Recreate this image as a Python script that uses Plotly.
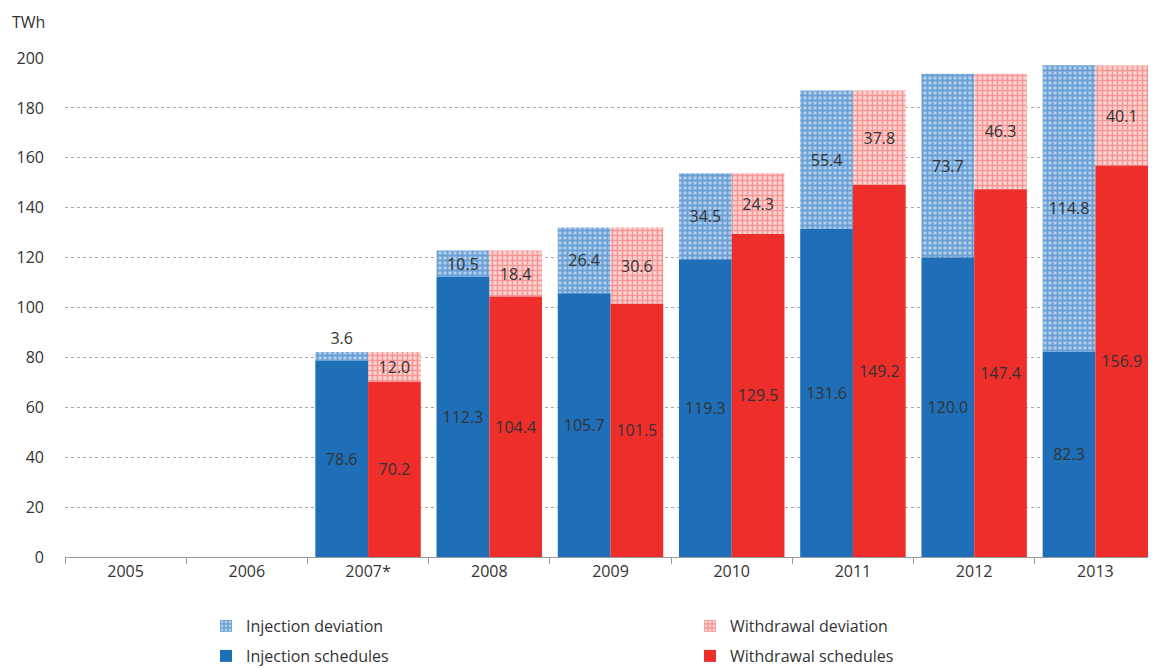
import plotly.graph_objects as go

years = ["2005", "2006", "2007*", "2008", "2009", "2010", "2011", "2012", "2013"]
inj_sched = [None, None, 78.6, 112.3, 105.7, 119.3, 131.6, 120.0, 82.3]
inj_dev = [None, None, 3.6, 10.5, 26.4, 34.5, 55.4, 73.7, 114.8]
wd_sched = [None, None, 70.2, 104.4, 101.5, 129.5, 149.2, 147.4, 156.9]
wd_dev = [None, None, 12.0, 18.4, 30.6, 24.3, 37.8, 46.3, 40.1]

BLUE = "#1E6EB8"
RED = "#EE2E2B"
TXT = "#333333"
FONT = "Open Sans"
# page body has an 8px margin, so the figure is drawn slightly smaller
W, H = 1148, 660
ML, MR, MT, MB = 57, 0, 50, 111
PW, PH = W - ML - MR, H - MT - MB

def fmt(vals):
    return ["" if v is None else f"{v:.1f}" for v in vals]

def pos(vals):
    return ["outside" if (v is not None and v < 5) else "inside" for v in vals]

fig = go.Figure()

fig.add_trace(go.Bar(
    x=years, y=inj_dev, base=inj_sched, name="Injection deviation",
    offsetgroup="inj", legend="legend",
    marker=dict(line=dict(width=0),
                pattern=dict(shape="+", fgcolor=BLUE, bgcolor="#b3cfee", size=5, solidity=0.6)),
    text=fmt(inj_dev), textposition=pos(inj_dev), insidetextanchor="middle",
    textfont=dict(color=TXT, size=16, family=FONT),
    cliponaxis=False,
))
fig.add_trace(go.Bar(
    x=years, y=wd_dev, base=wd_sched, name="Withdrawal deviation",
    offsetgroup="wd", legend="legend2",
    marker=dict(line=dict(width=0),
                pattern=dict(shape="+", fgcolor="#ef5552", bgcolor="#fcd6d5", size=5, solidity=0.55)),
    text=fmt(wd_dev), textposition=pos(wd_dev), insidetextanchor="middle",
    textfont=dict(color=TXT, size=16, family=FONT),
    cliponaxis=False,
))
fig.add_trace(go.Bar(
    x=years, y=inj_sched, name="Injection schedules",
    offsetgroup="inj", legend="legend3",
    marker=dict(color=BLUE, line=dict(width=0)),
    text=fmt(inj_sched), textposition="inside", insidetextanchor="middle",
    textfont=dict(color=TXT, size=16, family=FONT),
))
fig.add_trace(go.Bar(
    x=years, y=wd_sched, name="Withdrawal schedules",
    offsetgroup="wd", legend="legend4",
    marker=dict(color=RED, line=dict(width=0)),
    text=fmt(wd_sched), textposition="inside", insidetextanchor="middle",
    textfont=dict(color=TXT, size=16, family=FONT),
))

def leg(xpx, ypx):
    return dict(xref="container", yref="container",
                x=xpx / W, y=1 - ypx / H, xanchor="left", yanchor="middle",
                bgcolor="rgba(0,0,0,0)", borderwidth=0,
                font=dict(size=16, color=TXT, family=FONT),
                itemwidth=30)

fig.update_layout(
    width=W, height=H,
    margin=dict(l=ML, r=MR, t=MT, b=MB, autoexpand=False),
    paper_bgcolor="white", plot_bgcolor="white",
    font=dict(family=FONT, size=16, color=TXT),
    barmode="group", bargap=0.13, bargroupgap=0,
    uniformtext=dict(minsize=16, mode="show"),
    showlegend=True,
    legend=leg(198, 618),
    legend2=leg(682, 618),
    legend3=leg(198, 648),
    legend4=leg(682, 648),
    annotations=[dict(text="TWh", xref="paper", yref="paper",
                      x=(2 - ML) / PW, y=(H - MB - 1) / PH,
                      xanchor="left", yanchor="top", showarrow=False,
                      font=dict(size=16, color=TXT, family=FONT))],
)
fig.update_xaxes(type="category", tickson="boundaries", ticks="outside", ticklen=6,
                 tickcolor="#999999", showline=True, linecolor="#999999", linewidth=1,
                 showgrid=False, automargin=False, tickfont=dict(size=16, color=TXT))
fig.update_yaxes(range=[0, 200], dtick=20, showgrid=True, gridcolor="#aaaaaa",
                 griddash="dot", gridwidth=1, zeroline=False, ticks="",
                 automargin=False, ticklabelstandoff=20, tickfont=dict(size=16, color=TXT))

fig.write_html("out.html")
